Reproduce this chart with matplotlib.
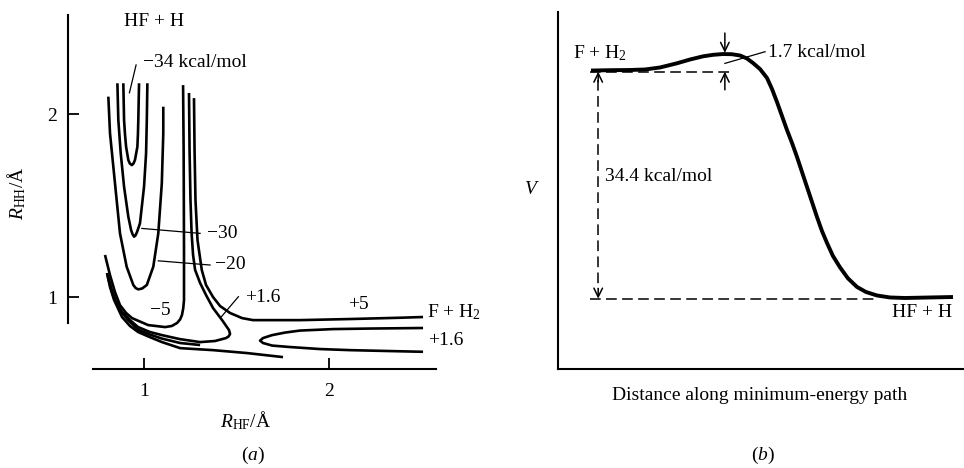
import matplotlib
matplotlib.use('Agg')
import matplotlib.pyplot as plt

plt.rcParams['font.family'] = ['Liberation Serif', 'DejaVu Serif']
plt.rcParams['mathtext.fontset'] = 'custom'
plt.rcParams['mathtext.rm'] = 'Liberation Serif'
plt.rcParams['mathtext.it'] = 'Liberation Serif:italic'
plt.rcParams['font.size'] = 14

W, H = 964, 468

# ===== (a) contour lines of V(R_HF, R_HH) (Å) =====
m34_x = [0.888, 0.890, 0.892, 0.897, 0.903, 0.915, 0.923, 0.934, 0.943, 0.951, 0.964, 0.967, 0.969, 0.971, 0.973]
m34_y = [2.168, 2.070, 1.967, 1.890, 1.821, 1.749, 1.730, 1.721, 1.730, 1.749, 1.821, 1.890, 1.967, 2.070, 2.168]

m30_x = [0.856, 0.861, 0.874, 0.892, 0.915, 0.930, 0.938, 0.946, 0.954, 0.962, 0.978, 1.000, 1.011, 1.015, 1.018]
m30_y = [2.168, 1.967, 1.785, 1.603, 1.439, 1.366, 1.343, 1.330, 1.337, 1.355, 1.403, 1.603, 1.785, 1.967, 2.168]

m20_x = [0.807, 0.816, 0.843, 0.870, 0.906, 0.942, 0.955, 0.969, 0.990, 1.015, 1.050, 1.077, 1.096, 1.104, 1.104]
m20_y = [2.095, 1.895, 1.621, 1.348, 1.166, 1.066, 1.049, 1.042, 1.047, 1.066, 1.166, 1.348, 1.621, 1.895, 2.040]

m5_x = [0.789, 0.816, 0.843, 0.870, 0.903, 0.935, 1.022, 1.114, 1.150, 1.178, 1.195, 1.205, 1.212, 1.216, 1.216, 1.214, 1.211]
m5_y = [1.230, 1.120, 1.027, 0.956, 0.913, 0.885, 0.847, 0.836, 0.842, 0.858, 0.878, 0.902, 0.940, 0.984, 1.257, 1.803, 2.158]

p16a_x = [1.243, 1.246, 1.251, 1.257, 1.265, 1.276, 1.303, 1.335, 1.373, 1.422, 1.459, 1.465, 1.457,
          1.443, 1.384, 1.303, 1.195, 1.097, 1.032, 0.968, 0.924, 0.881, 0.849, 0.822, 0.800]
p16a_y = [2.115, 1.803, 1.530, 1.350, 1.230, 1.148, 1.077, 1.011, 0.940, 0.874, 0.820, 0.798, 0.785,
          0.776, 0.760, 0.754, 0.770, 0.792, 0.809, 0.836, 0.874, 0.918, 0.973, 1.049, 1.131]

p16b_x = [2.508, 2.222, 2.022, 1.843, 1.762, 1.692, 1.643, 1.627, 1.643, 1.692, 1.789, 1.951, 2.114, 2.330, 2.508]
p16b_y = [0.831, 0.828, 0.825, 0.817, 0.806, 0.792, 0.776, 0.762, 0.749, 0.735, 0.727, 0.716, 0.710, 0.705, 0.701]

p5a_x = [1.270, 1.273, 1.278, 1.289, 1.312, 1.335, 1.373, 1.411, 1.465, 1.530, 1.589, 1.843, 2.114, 2.384, 2.508]
p5a_y = [2.087, 1.803, 1.530, 1.311, 1.148, 1.066, 1.000, 0.951, 0.913, 0.885, 0.874, 0.874, 0.880, 0.887, 0.891]

p5b_x = [0.800, 0.816, 0.838, 0.881, 0.924, 0.968, 1.032, 1.097, 1.195, 1.373, 1.557, 1.751]
p5b_y = [1.131, 1.055, 0.984, 0.891, 0.842, 0.809, 0.781, 0.754, 0.721, 0.710, 0.694, 0.672]

wall_x = [0.805, 0.832, 0.870, 0.914, 0.968, 1.032, 1.097, 1.195, 1.303]
wall_y = [1.109, 1.011, 0.929, 0.874, 0.822, 0.795, 0.773, 0.749, 0.738]

# ===== (b) V along the minimum-energy path (kcal/mol, distance arbitrary) =====
path_s = [0.813, 1.281, 1.773, 2.143, 2.512, 2.931, 3.251, 3.571, 3.818, 4.064, 4.286, 4.483,
          4.655, 4.803, 4.975, 5.148, 5.271, 5.394, 5.517, 5.640, 5.764, 5.887, 6.010, 6.133,
          6.256, 6.379, 6.502, 6.626, 6.773, 6.946, 7.143, 7.365, 7.586, 7.857, 8.177, 8.547,
          9.163, 9.729]
path_V = [-0.08, -0.03, 0.00, 0.08, 0.38, 1.02, 1.59, 2.07, 2.30, 2.42, 2.39, 2.20,
          1.74, 1.06, 0.15, -1.21, -2.88, -4.85, -6.97, -9.09, -11.06, -13.18, -15.46, -17.73,
          -20.00, -22.28, -24.40, -26.22, -28.19, -29.91, -31.58, -32.88, -33.64, -34.17, -34.47, -34.55,
          -34.47, -34.40]
barrier = 1.7
exo = 34.4


def fx(px):
    return px / W


def fy(py):
    return 1 - py / H


fig = plt.figure(figsize=(W / 100, H / 100), dpi=100)

# ---------------- panel (a) ----------------
ax = fig.add_axes([fx(68), fy(369), (436 - 68) / W, (369 - 15) / H])
curves = [(m34_x, m34_y), (m30_x, m30_y), (m20_x, m20_y), (m5_x, m5_y),
          (p16a_x, p16a_y), (p16b_x, p16b_y), (p5a_x, p5a_y), (p5b_x, p5b_y), (wall_x, wall_y)]
for xs, ys in curves:
    ax.plot(xs, ys, color='k', lw=1.9, solid_joinstyle='round', solid_capstyle='butt')

ax.set_xlim(0.589, 2.578)
ax.set_ylim(0.607, 2.541)
ax.spines['top'].set_visible(False)
ax.spines['right'].set_visible(False)
ax.spines['left'].set_bounds(0.858, 2.541)
ax.spines['bottom'].set_bounds(0.724, 2.578)
for s in ['left', 'bottom']:
    ax.spines[s].set_linewidth(1.5)
ax.set_xticks([1, 2])
ax.set_yticks([1, 2])
ax.tick_params(axis='x', direction='in', length=8, width=1.3, pad=10, labelsize=14)
ax.tick_params(axis='y', direction='in', length=8, width=1.3, pad=8, labelsize=14)

# leader lines and labels
lead = dict(color='k', lw=0.9)
ax.plot([0.957, 0.921], [2.268, 2.116], **lead)
ax.plot([0.988, 1.303], [1.375, 1.348], **lead)
ax.plot([1.077, 1.357], [1.198, 1.175], **lead)
ax.plot([1.510, 1.415], [1.002, 0.889], **lead)
ax.text(0.995, 2.284, '−34 kcal/mol', ha='left', va='center')
ax.text(1.341, 1.350, '−30', ha='left', va='center')
ax.text(1.384, 1.180, '−20', ha='left', va='center')
ax.text(1.546, 0.995, '+1.6', ha='left', va='center')
ax.text(1.086, 0.929, '−5', ha='center', va='center')
ax.text(2.157, 0.962, '+5', ha='center', va='center')
ax.text(2.530, 0.918, 'F + H$_2$', ha='left', va='center', clip_on=False)
ax.text(2.535, 0.765, '+1.6', ha='left', va='center', clip_on=False)
ax.text(1.054, 2.503, 'HF + H', ha='center', va='center')

fig.text(fx(17), fy(193), r'$R_{\rm HH}$/Å', rotation=90, ha='center', va='center')
fig.text(fx(246), fy(421), r'$R_{\rm HF}$/Å', ha='center', va='center')
fig.text(fx(253), fy(455), r'($\it{a}$)', ha='center', va='center')

# ---------------- panel (b) ----------------
bx = fig.add_axes([fx(558), fy(369), (964 - 558) / W, (369 - 12) / H])
bx.plot(path_s, path_V, color='k', lw=2.8, solid_joinstyle='round', solid_capstyle='butt')
bx.set_xlim(0, 10)
bx.set_ylim(-45.31, 8.79)
bx.spines['top'].set_visible(False)
bx.spines['right'].set_visible(False)
for s in ['left', 'bottom']:
    bx.spines[s].set_linewidth(1.5)
bx.set_xticks([])
bx.set_yticks([])

dash = dict(color='k', lw=1.1, dashes=(7, 3.5))
bx.plot([0.79, 4.24], [-0.25, -0.25], **dash)
bx.plot([0.79, 7.85], [-exo - 0.25, -exo - 0.25], **dash)
bx.plot([0.99, 0.99], [-1.5, -exo + 1.2], **dash)

head = dict(arrowstyle='->,head_length=0.45,head_width=0.22', color='k', lw=1.1,
            shrinkA=0, shrinkB=0)
bx.annotate('', xy=(0.99, -0.25), xytext=(0.99, -1.8), arrowprops=head)
bx.annotate('', xy=(0.99, -exo - 0.25), xytext=(0.99, -exo + 1.3), arrowprops=head)
bx.annotate('', xy=(4.11, 2.6), xytext=(4.11, 5.6), arrowprops=head)
bx.annotate('', xy=(4.11, -0.25), xytext=(4.11, -3.0), arrowprops=head)

bx.plot([4.11, 5.10], [1.0, 2.77], color='k', lw=0.9)
bx.text(5.17, 2.58, f'{barrier} kcal/mol', ha='left', va='center')
bx.text(1.03, 2.58, 'F + H$_2$', ha='center', va='center')
bx.text(1.16, -16.2, f'{exo} kcal/mol', ha='left', va='center')
bx.text(9.70, -36.8, 'HF + H', ha='right', va='center')

fig.text(fx(532), fy(190), '$V$', ha='center', va='center')
fig.text(fx(760), fy(395), 'Distance along minimum-energy path', ha='center', va='center')
fig.text(fx(763), fy(455), r'($\it{b}$)', ha='center', va='center')

fig.savefig('out.png', dpi=100)
